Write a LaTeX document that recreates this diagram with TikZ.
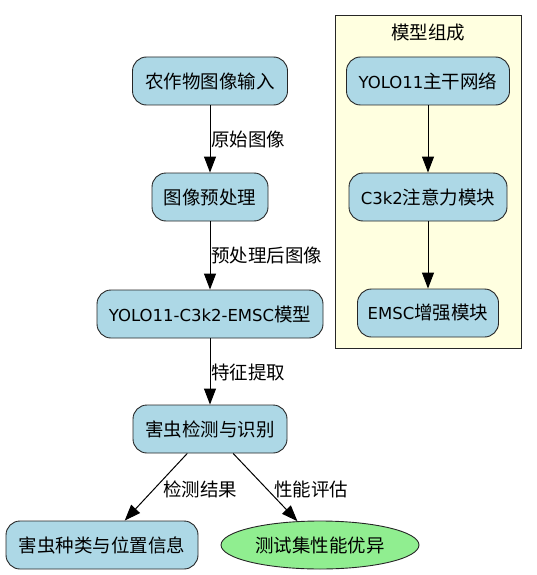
\documentclass[tikz,border=0pt]{standalone}
\usepackage{fontspec}
\setmainfont{DejaVu Sans}
\newfontfamily\cjk[Scale=1.12]{Noto Sans CJK SC}
\usetikzlibrary{arrows.meta,shapes.geometric}
\definecolor{boxblue}{HTML}{ADD8E6}
\definecolor{boxgreen}{HTML}{90EE90}
\definecolor{clusterbg}{HTML}{FFFFE0}
\tikzset{
  box/.style={draw=black!85, fill=boxblue, rounded corners=14pt, line width=0.9pt,
    minimum height=48pt, inner sep=0pt, align=center, font=\fontsize{16.5}{19}\selectfont},
  oval/.style={draw=black!85, fill=boxgreen, ellipse, line width=0.9pt,
    minimum height=48pt, minimum width=198pt, inner sep=0pt, font=\fontsize{16.5}{19}\selectfont},
  arr/.style={draw=black, line width=1pt, -{Triangle[length=16pt,width=12pt]}},
  lab/.style={font=\fontsize{16.5}{19}\selectfont, inner sep=0pt},
}
\begin{document}
\begin{tikzpicture}[x=1pt,y=-1pt]
\path[use as bounding box] (0,0) rectangle (536,575);
% cluster
\draw[draw=black!85, fill=clusterbg, line width=0.9pt] (335,15) rectangle (521,348);
\node[lab] (ctitle) at (428,33) {\cjk 模型组成};
\node[box, minimum width=163pt] (yolo) at (428,81) {YOLO11{\cjk 主干网络}};
\node[box, minimum width=158pt] (c3k2) at (428,197) {C3k2{\cjk 注意力模块}};
\node[box, minimum width=141pt] (emsc) at (428,313) {EMSC{\cjk 增强模块}};
\draw[arr] (yolo) -- (c3k2);
\draw[arr] (c3k2) -- (emsc);
% main flow
\node[box, minimum width=155pt] (input) at (210,81) {\cjk 农作物图像输入};
\node[box, minimum width=116pt] (pre) at (210,197) {\cjk 图像预处理};
\node[box, minimum width=226pt] (model) at (210,314) {YOLO11-C3k2-EMSC{\cjk 模型}};
\node[box, minimum width=154pt] (det) at (210,429) {\cjk 害虫检测与识别};
\node[box, minimum width=192pt] (res) at (102,545) {\cjk 害虫种类与位置信息};
\node[oval] (perf) at (320,545) {\cjk 测试集性能优异};
\draw[arr] (input) -- (pre);
\draw[arr] (pre) -- (model);
\draw[arr] (model) -- (det);
\draw[arr] (det) -- (res);
\draw[arr] (det) -- (perf);
\node[lab, anchor=west] (l1) at (211,139) {\cjk 原始图像};
\node[lab, anchor=west] (l2) at (211,256) {\cjk 预处理后图像};
\node[lab, anchor=west] (l3) at (211,372) {\cjk 特征提取};
\node[lab] (l4) at (200,489) {\cjk 检测结果};
\node[lab] (l5) at (311,489) {\cjk 性能评估};
\end{tikzpicture}
\end{document}
